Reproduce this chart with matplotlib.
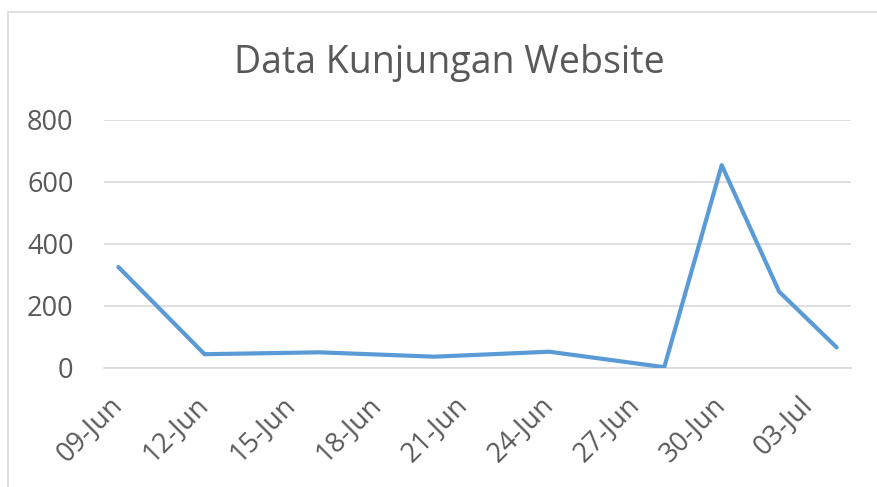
import matplotlib
matplotlib.use("Agg")
import matplotlib.pyplot as plt
import matplotlib.dates as mdates
from matplotlib.patches import Rectangle
import datetime as dt

# Data
dates = ["2020-06-09", "2020-06-12", "2020-06-16", "2020-06-20", "2020-06-24",
         "2020-06-28", "2020-06-30", "2020-07-02", "2020-07-04"]
visits = [325, 43, 49, 35, 51, 1, 654, 245, 65]
tick_dates = ["2020-06-09", "2020-06-12", "2020-06-15", "2020-06-18", "2020-06-21",
              "2020-06-24", "2020-06-27", "2020-06-30", "2020-07-03"]
y_ticks = [0, 200, 400, 600, 800]
title = "Data Kunjungan Website"

plt.rcParams['font.family'] = ['Open Sans', 'DejaVu Sans']
text_color = "#595959"
grid_color = "#D9D9D9"
line_color = "#5B9BD5"

x = [dt.datetime.strptime(d, "%Y-%m-%d") for d in dates]
xt = [dt.datetime.strptime(d, "%Y-%m-%d") for d in tick_dates]

fig = plt.figure(figsize=(8.77, 4.87), dpi=100)
ax = fig.add_axes([104/877, 1-367.5/487, (851-104)/877, (367.5-120)/487])

ax.plot(x, visits, color=line_color, lw=3, solid_capstyle='round', solid_joinstyle='round', zorder=3)

ax.set_xlim(x[0] - dt.timedelta(days=0.5), x[-1] + dt.timedelta(days=0.5))
ax.set_ylim(0, 800)
ax.set_yticks(y_ticks)
ax.set_xticks(xt)
ax.xaxis.set_major_formatter(mdates.DateFormatter("%d-%b"))

ax.grid(axis='y', color=grid_color, lw=1.2)
ax.set_axisbelow(True)
for s in ['top', 'right', 'left']:
    ax.spines[s].set_visible(False)
ax.spines['bottom'].set_color(grid_color)
ax.spines['bottom'].set_linewidth(1.2)
ax.tick_params(axis='both', length=0, colors=text_color, labelsize=19.5)
ax.tick_params(axis='y', pad=22)
ax.tick_params(axis='x', pad=24)
for lab in ax.get_xticklabels():
    lab.set_rotation(45)
    lab.set_ha('right')
    lab.set_va('center')
    lab.set_rotation_mode('anchor')

fig.text(449/877, 1-73/487, title, ha='center', va='baseline', fontsize=27, color=text_color)

fig.patches.append(Rectangle((8/877, -0.1), 1.2, 1.1 - 12/487, transform=fig.transFigure,
                             fill=False, edgecolor=grid_color, lw=1.2))

fig.savefig("out.png", dpi=100)
